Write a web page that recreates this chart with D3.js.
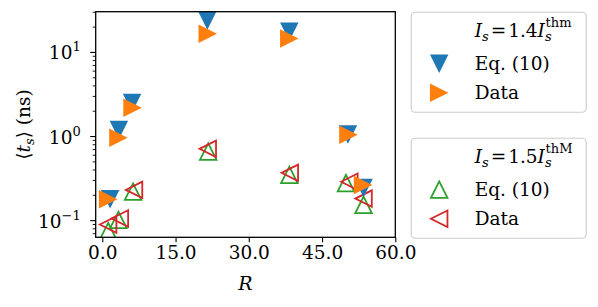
<!DOCTYPE html>
<html>
<head>
<meta charset="utf-8">
<script src="https://cdn.jsdelivr.net/npm/d3@7"></script>
<style>
  body { margin: 0; background: #fff; }
  text { font-family: "DejaVu Serif", serif; fill: #000; }
</style>
</head>
<body>
<div id="chart"></div>
<script>
// R and <t_s> (ns)
var R14_eq = [1.6, 3.4, 6.1, 21.5, 38.3, 50.3, 53.5];
var T14_eq = [0.18, 1.2, 2.5, 24, 17.6, 1.06, 0.245];
var R14_data = [1.2, 3.3, 6.2, 21.6, 38.3, 50.4, 53.4];
var T14_data = [0.18, 0.97, 2.2, 16.7, 14.6, 1.05, 0.266];
var R15_eq = [1.2, 3.3, 6.3, 21.7, 38.3, 49.9, 53.5];
var T15_eq = [0.075, 0.102, 0.221, 0.663, 0.35, 0.28, 0.154];
var R15_data = [1.2, 3.6, 6.5, 21.6, 38.4, 50.6, 53.5];
var T15_data = [0.09, 0.106, 0.232, 0.714, 0.37, 0.29, 0.183];

var xTicks = [0, 15, 30, 45, 60];
var yTicks = [0.1, 1, 10];
var yTickExp = ["\u22121", "0", "1"];

var W = 598, H = 307;
var margin = { top: 11.7, left: 95.7 },
  width = 395.3 - 95.7,
  height = 237.3 - 11.7;

var svg = d3.select("#chart").append("svg")
  .attr("width", W).attr("height", H);

var g = svg.append("g")
  .attr("transform", "translate(" + margin.left + "," + margin.top + ")");

var x = d3.scaleLinear().domain([-1.35, 60]).range([0, width]);
var y = d3.scaleLog().domain([0.0634, 30.5]).range([height, 0]);

svg.append("defs").append("clipPath").attr("id", "clip")
  .append("rect").attr("width", width).attr("height", height);

// marker shapes, width = height = s
function tri(dir, s) {
  var h = s / 2;
  if (dir == "down") return "M" + (-h) + "," + (-h) + "L" + h + "," + (-h) + "L0," + h + "Z";
  if (dir == "up") return "M0," + (-h) + "L" + h + "," + h + "L" + (-h) + "," + h + "Z";
  if (dir == "right") return "M" + (-h) + "," + (-h) + "L" + h + ",0L" + (-h) + "," + h + "Z";
  return "M" + h + "," + (-h) + "L" + (-h) + ",0L" + h + "," + h + "Z";
}

var series = [
  { r: R15_eq, t: T15_eq, dir: "up", color: "#2ca02c", filled: false },
  { r: R15_data, t: T15_data, dir: "left", color: "#d62728", filled: false },
  { r: R14_eq, t: T14_eq, dir: "down", color: "#1f77b4", filled: true },
  { r: R14_data, t: T14_data, dir: "right", color: "#ff7f0e", filled: true }
];

var plot = g.append("g").attr("clip-path", "url(#clip)");

series.forEach(function (s) {
  var pts = s.r.map(function (d, i) { return [d, s.t[i]]; });
  plot.selectAll(null)
    .data(pts)
    .enter()
    .append("path")
    .attr("transform", function (d) { return "translate(" + x(d[0]) + "," + y(d[1]) + ")"; })
    .attr("d", tri(s.dir, s.filled ? 18.5 : 16.5))
    .attr("fill", s.filled ? s.color : "none")
    .attr("stroke", s.filled ? "none" : s.color)
    .attr("stroke-width", 1.8)
    .attr("stroke-linejoin", "miter");
});

// X axis
var xAxis = g.append("g")
  .attr("transform", "translate(0," + height + ")")
  .call(d3.axisBottom(x).tickValues(xTicks).tickFormat(d3.format(".1f")).tickSize(5).tickPadding(4).tickSizeOuter(0));
xAxis.select(".domain").remove();
xAxis.selectAll("line").attr("stroke", "#000").attr("stroke-width", 1.1);
xAxis.selectAll("text").attr("font-size", 18.5).attr("font-family", "DejaVu Serif");

// Y axis, minor ticks
var minor = [];
[0.01, 0.1, 1, 10].forEach(function (b) {
  for (var k = 2; k <= 9; k++) {
    var v = b * k;
    if (v > 0.0634 && v < 30.5) minor.push(v);
  }
});
g.append("g").selectAll("line").data(minor).enter().append("line")
  .attr("x1", -3).attr("x2", 0)
  .attr("y1", function (d) { return y(d); }).attr("y2", function (d) { return y(d); })
  .attr("stroke", "#000").attr("stroke-width", 0.9);

g.append("g").selectAll("line").data(yTicks).enter().append("line")
  .attr("x1", -5.5).attr("x2", 0)
  .attr("y1", function (d) { return y(d); }).attr("y2", function (d) { return y(d); })
  .attr("stroke", "#000").attr("stroke-width", 1.1);

var ylab = g.append("g").selectAll("text").data(yTicks).enter().append("text")
  .attr("x", -15)
  .attr("y", function (d) { return y(d) + 7; })
  .attr("text-anchor", "end")
  .attr("font-size", 18.5);
ylab.append("tspan").text("10");
ylab.append("tspan").attr("dy", -8).attr("font-size", 13).text(function (d, i) { return yTickExp[i]; });

// frame
g.append("rect").attr("width", width).attr("height", height)
  .attr("fill", "none").attr("stroke", "#000").attr("stroke-width", 1.3);

// axis labels
svg.append("text")
  .attr("x", margin.left + width / 2).attr("y", 290)
  .attr("text-anchor", "middle").attr("font-size", 19).attr("font-style", "italic")
  .text("R");

var yl = svg.append("text")
  .attr("transform", "translate(30," + (margin.top + height / 2) + ") rotate(-90)")
  .attr("text-anchor", "middle").attr("font-size", 18.5);
yl.append("tspan").text("\u27E8");
yl.append("tspan").attr("font-style", "italic").text("t");
yl.append("tspan").attr("font-style", "italic").attr("font-size", 13).attr("dy", 4).text("s");
yl.append("tspan").attr("dy", -4).text("\u27E9 (ns)");

// legends
var legends = [
  { top: 11.7, num: "1.4", sup: "thm",
    items: [{ dir: "down", color: "#1f77b4", filled: true, label: "Eq. (10)" },
            { dir: "right", color: "#ff7f0e", filled: true, label: "Data" }] },
  { top: 137.7, num: "1.5", sup: "thM",
    items: [{ dir: "up", color: "#2ca02c", filled: false, label: "Eq. (10)" },
            { dir: "left", color: "#d62728", filled: false, label: "Data" }] }
];

legends.forEach(function (L) {
  var lg = svg.append("g").attr("transform", "translate(410.7," + L.top + ")");
  lg.append("rect").attr("x", 0.5).attr("y", 0.5).attr("width", 175).attr("height", 100)
    .attr("rx", 4).attr("fill", "#fff").attr("fill-opacity", 0.8)
    .attr("stroke", "#cccccc").attr("stroke-width", 1.1);

  var t = lg.append("text").attr("x", 64).attr("y", 25).attr("font-size", 18.5);
  t.append("tspan").attr("font-style", "italic").text("I");
  t.append("tspan").attr("font-style", "italic").attr("font-size", 13).attr("dy", 4).text("s");
  t.append("tspan").attr("dy", -4).attr("dx", 2).text("=");
  t.append("tspan").attr("dx", 2).text(L.num);
  t.append("tspan").attr("font-style", "italic").text("I");
  t.append("tspan").attr("font-style", "italic").attr("font-size", 13).attr("dy", 4).text("s");
  t.append("tspan").attr("font-size", 13).attr("dx", -6).attr("dy", -14).text(L.sup);

  L.items.forEach(function (it, i) {
    var cy = 52 + i * 29;
    lg.append("path")
      .attr("transform", "translate(28.5," + cy + ")")
      .attr("d", tri(it.dir, it.filled ? 18.5 : 16.5))
      .attr("fill", it.filled ? it.color : "none")
      .attr("stroke", it.filled ? "none" : it.color)
      .attr("stroke-width", 1.8);
    lg.append("text").attr("x", 64).attr("y", cy + 6.5).attr("font-size", 18.5).text(it.label);
  });
});
</script>
</body>
</html>
